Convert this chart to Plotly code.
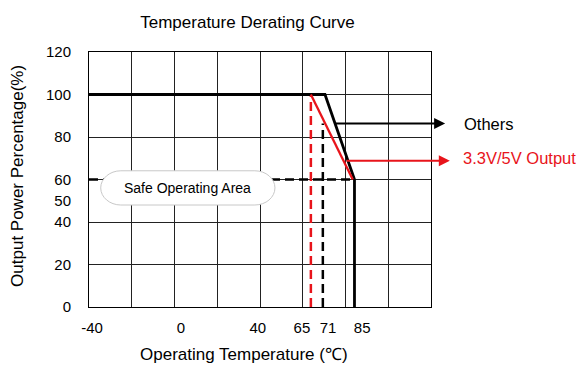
import plotly.graph_objects as go

# ---- data (x in schematic grid-column units, y in % output power) ----
others_x = [0, 5.52, 6.21, 6.21]
others_y = [100, 100, 60, 0]

output33_x = [5.19, 6.17]
output33_y = [100, 60]

red_dash_x = [5.19, 5.19]
red_dash_y = [0, 100]

black_dash_vx = [5.47, 5.47]
black_dash_vy = [0, 86.4]

black_dash_hx = [0, 6.21]
black_dash_hy = [60, 60]

others_arrow_x = [5.70, 8.33]
others_arrow_y = 86.4
output_arrow_x = [5.99, 8.44]
output_arrow_y = 68.8

x_tick_pos = [0.07, 2.15, 3.95, 4.98, 5.59, 6.39]
x_tick_text = ["-40", "0", "40", "65", "71", "85"]
y_tick_vals = [0, 20, 40, 50, 60, 80, 100, 120]

FONT = "Liberation Sans, Arial, sans-serif"

fig = go.Figure()

dash = "9px,5px"
fig.add_trace(go.Scatter(x=black_dash_hx, y=black_dash_hy, mode="lines",
                         line=dict(color="black", width=2.5, dash=dash), hoverinfo="skip"))
fig.add_trace(go.Scatter(x=black_dash_vx, y=black_dash_vy, mode="lines",
                         line=dict(color="black", width=2.5, dash=dash), hoverinfo="skip"))
fig.add_trace(go.Scatter(x=red_dash_x, y=red_dash_y, mode="lines",
                         line=dict(color="#e8141b", width=2.5, dash=dash), hoverinfo="skip"))
fig.add_trace(go.Scatter(x=others_x, y=others_y, mode="lines",
                         line=dict(color="black", width=2.8), hoverinfo="skip"))
fig.add_trace(go.Scatter(x=output33_x, y=output33_y, mode="lines",
                         line=dict(color="#e8141b", width=2.3), hoverinfo="skip"))
# dummy trace for the label axes
fig.add_trace(go.Scatter(x=[None], y=[None], xaxis="x2", yaxis="y2", hoverinfo="skip"))

# Safe operating area pill
x0, x1, r = 0.274, 4.35, 0.47
top, bot = 64.1, 48.0
mid = (top + bot) / 2
k = 0.55
path = (f"M {x0 + r},{top} L {x1 - r},{top} "
        f"C {x1 - r + r * k},{top} {x1},{mid + (top - mid) * k} {x1},{mid} "
        f"C {x1},{mid - (mid - bot) * k} {x1 - r + r * k},{bot} {x1 - r},{bot} "
        f"L {x0 + r},{bot} "
        f"C {x0 + r - r * k},{bot} {x0},{mid - (mid - bot) * k} {x0},{mid} "
        f"C {x0},{mid + (top - mid) * k} {x0 + r - r * k},{top} {x0 + r},{top} Z")
fig.add_shape(type="path", path=path, xref="x", yref="y", layer="above",
              fillcolor="white", line=dict(color="#c8c8c8", width=1))

annotations = [
    dict(text="Safe Operating Area", x=(x0 + x1) / 2, y=56, xref="x", yref="y",
         showarrow=False, font=dict(family=FONT, size=14, color="black")),
    dict(text="", x=others_arrow_x[1], y=others_arrow_y, ax=others_arrow_x[0], ay=others_arrow_y,
         xref="x", yref="y", axref="x", ayref="y", showarrow=True,
         arrowhead=2, arrowsize=1.1, arrowwidth=2, arrowcolor="black"),
    dict(text="", x=output_arrow_x[1], y=output_arrow_y, ax=output_arrow_x[0], ay=output_arrow_y,
         xref="x", yref="y", axref="x", ayref="y", showarrow=True,
         arrowhead=2, arrowsize=1.1, arrowwidth=2, arrowcolor="#e8141b"),
    dict(text="Others", x=1.0898, y=86.0, xref="paper", yref="y", xanchor="left", yanchor="middle",
         showarrow=False, font=dict(family=FONT, size=16.5, color="black")),
    dict(text="3.3V/5V Output", x=1.087, y=70.0, xref="paper", yref="y", xanchor="left", yanchor="middle",
         showarrow=False, font=dict(family=FONT, size=16.5, color="#e8141b")),
    dict(text="Operating Temperature (℃)", x=0.452, y=-0.187, xref="paper", yref="paper",
         xanchor="center", yanchor="middle", showarrow=False,
         font=dict(family=FONT, size=17, color="black")),
    dict(text="Output Power Percentage(%)", x=-0.2076, y=0.514, xref="paper", yref="paper",
         xanchor="center", yanchor="middle", textangle=-90, showarrow=False,
         font=dict(family=FONT, size=17, color="black")),
]

fig.update_layout(
    width=578, height=365, autosize=False,
    margin=dict(l=89, r=147, t=52, b=58),
    paper_bgcolor="white", plot_bgcolor="white",
    showlegend=False,
    title=dict(text="Temperature Derating Curve", x=247.5 / 578, y=1 - 22 / 365,
               xref="container", yref="container", xanchor="center", yanchor="middle",
               font=dict(family=FONT, size=17, color="black")),
    xaxis=dict(range=[0, 8], tick0=0, dtick=1, showgrid=True, gridcolor="#222", gridwidth=1,
               showticklabels=False, ticks="", zeroline=False, showline=True,
               linecolor="black", linewidth=1, mirror=True, fixedrange=True),
    yaxis=dict(range=[0, 120], tick0=0, dtick=20, showgrid=True, gridcolor="#222", gridwidth=1,
               showticklabels=False, ticks="", zeroline=False, showline=True,
               linecolor="black", linewidth=1, mirror=True, fixedrange=True),
    xaxis2=dict(overlaying="x", side="bottom", range=[0, 8], tickmode="array",
                tickvals=x_tick_pos, ticktext=x_tick_text, showgrid=False, zeroline=False,
                showline=False, ticks="outside", ticklen=7, tickcolor="rgba(0,0,0,0)",
                tickfont=dict(family=FONT, size=15, color="black"), fixedrange=True),
    yaxis2=dict(overlaying="y", side="left", range=[0, 120], tickmode="array",
                tickvals=y_tick_vals, showgrid=False, zeroline=False, showline=False,
                ticks="outside", ticklen=14, tickcolor="rgba(0,0,0,0)",
                tickfont=dict(family=FONT, size=15, color="black"), fixedrange=True),
    annotations=annotations,
)

fig.write_html("out.html", config={"displayModeBar": False},
               post_script="document.body.style.margin='0px';document.body.style.overflow='hidden';")
